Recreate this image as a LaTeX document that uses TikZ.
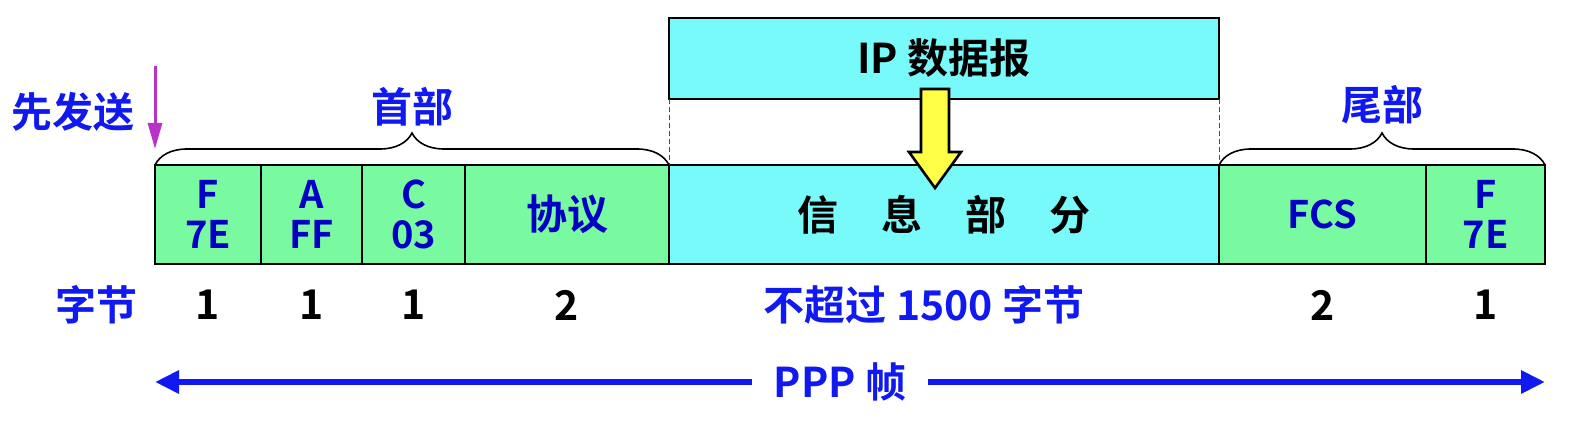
\documentclass[tikz,border=0pt]{standalone}
\usepackage{fontspec}
\setmainfont{Noto Sans CJK SC}[BoldFont={Noto Sans CJK SC Bold}]
\usetikzlibrary{positioning,arrows.meta,decorations.pathreplacing}
\definecolor{cellgreen}{RGB}{122,250,160}
\definecolor{infocyan}{RGB}{120,250,250}
\definecolor{txtblue}{RGB}{15,25,240}
\definecolor{celltxt}{RGB}{0,0,195}
\definecolor{sendpink}{RGB}{185,50,200}
\definecolor{ipyellow}{RGB}{255,255,70}

\tikzset{
  cell/.style={draw, line width=1.2pt, fill=cellgreen, minimum height=99pt,
    inner sep=0pt, outer sep=0pt, text=celltxt, align=center,
    font=\bfseries\fontsize{38}{40}\selectfont},
  info/.style={cell, fill=infocyan, text=black, line width=2pt,
    font=\bfseries\fontsize{41}{44}\selectfont},
  lbl/.style={text=txtblue, font=\bfseries\fontsize{41}{44}\selectfont},
  num/.style={font=\bfseries\fontsize{41}{44}\selectfont},
  hbrace/.style={decorate, decoration={brace, amplitude=32pt}, line width=1.6pt},
  framearrow/.style={-{Triangle[length=24pt,width=22pt]}, line width=6pt, txtblue},
}

\begin{document}
\begin{tikzpicture}[x=1pt, y=1pt]
    \useasboundingbox (0,0) rectangle (1592,428);

    % frame fields
    \node[cell, minimum width=106pt, anchor=south west] (fa) at (155,164) {F\\7E};
    \node[cell, minimum width=101pt, right=0pt of fa] (addr) {A\\FF};
    \node[cell, minimum width=103pt, right=0pt of addr] (ctrl) {C\\03};
    \node[cell, minimum width=204pt, right=0pt of ctrl] (proto) {\fontsize{41}{44}\selectfont 协议};
    \node[info, minimum width=550pt, right=0pt of proto] (data) {信\hspace{1.05em}息\hspace{1.05em}部\hspace{1.05em}分};
    \node[cell, minimum width=207pt, right=0pt of data] (fcs) {FCS};
    \node[cell, minimum width=119pt, right=0pt of fcs] (fb) {F\\7E};

    % IP datagram
    \node[info, minimum width=550pt, minimum height=81pt, above=66pt of data] (ip) {IP 数据报};
    \draw[dashed, dash pattern=on 5pt off 3pt, line width=0.8pt, black!70]
        (ip.south west) -- (data.north west)
        (ip.south east) -- (data.north east);
    \draw[line width=2.6pt, fill=ipyellow, line join=miter]
        (921,339) -- (949,339) -- (949,276) -- (961,276) -- (935,240)
        -- (909,276) -- (921,276) -- cycle;

    % braces
    \draw[hbrace] (fa.north west) -- (proto.north east)
        node[lbl, midway, yshift=58pt] (head) {首部};
    \draw[hbrace] (fcs.north west) -- (fb.north east)
        node[lbl, midway, yshift=60pt] (tail) {尾部};

    % send first
    \node[lbl] (first) at (73,316) {先发送};
    \coordinate (sendtop) at ([yshift=99pt]fa.north west);
    \coordinate (sendend) at ([yshift=16pt]fa.north west);
    \draw[-{Triangle[length=26pt,width=14pt]}, line width=3pt, sendpink] (sendtop) -- (sendend);

    % byte counts
    \node[lbl] (bytes) at (96,123) {字节};
    \node[num] (n1) at (fa |- bytes) {1};
    \node[num] (n2) at (addr |- bytes) {1};
    \node[num] (n3) at (ctrl |- bytes) {1};
    \node[num] (n4) at (proto |- bytes) {2};
    \node[lbl] (maxlen) at (924,123) {不超过 1500 字节};
    \node[num] (n5) at (fcs |- bytes) {2};
    \node[num] (n6) at (fb |- bytes) {1};

    % whole frame
    \node[lbl, inner xsep=22pt] (ppp) at (840,46) {PPP 帧};
    \draw[framearrow] (ppp.west) -- (fa.west |- ppp);
    \draw[framearrow] (ppp.east) -- (fb.east |- ppp);
\end{tikzpicture}
\end{document}
